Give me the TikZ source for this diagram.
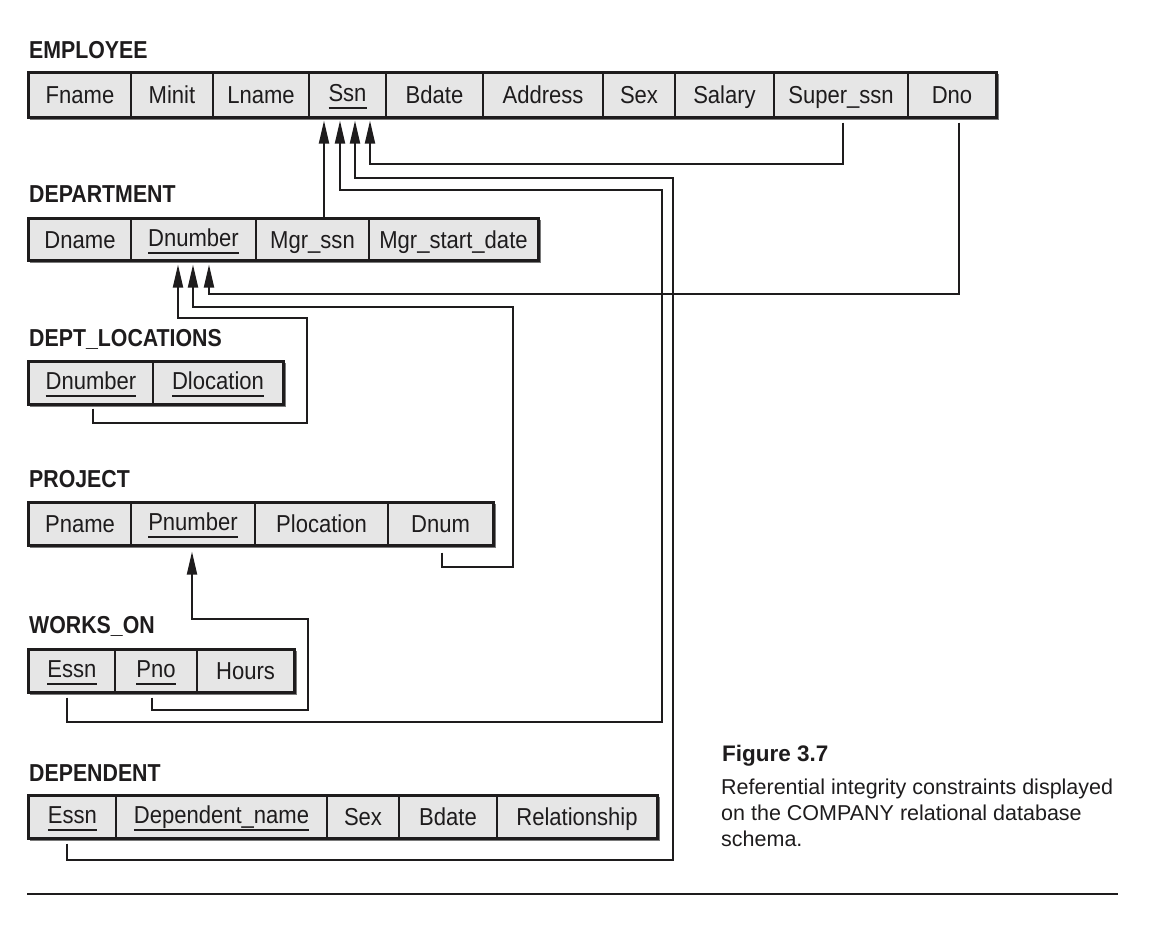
\documentclass[tikz,border=0pt]{standalone}
\usepackage{fontspec}
\setmainfont{Liberation Sans}
\newfontfamily\cellfont{Liberation Sans}[FakeStretch=0.9]
\newfontfamily\labfont{Liberation Sans}[FakeStretch=0.87]
\usetikzlibrary{arrows.meta,calc}
\definecolor{cellgray}{HTML}{E6E6E6}
\definecolor{ink}{HTML}{1E1C1D}
\definecolor{shadowgray}{HTML}{7A7A7A}
\newcommand\keyattr[1]{\raisebox{2pt}{\setbox0=\hbox{#1}\rlap{\rule[-7.5pt]{\wd0}{1.8pt}}\box0}}
\newcommand\tcell[6]{\node[cell, minimum width={(#3)-(#2)}, minimum height={(#5)-(#4)}] (#1) at ({((#2)+(#3))/2},{((#4)+(#5))/2}) {#6};}
\newcommand\tframe[2]{%
  \draw[shadowgray, line width=2pt] ($(#2.north east)+(1.8,1.8)$) -- ($(#2.south east)+(1.8,1.8)$) -- ($(#1.south west)+(1.8,1.8)$);
  \draw[ink, line width=2.2pt] (#1.north west) rectangle (#2.south east);}
\begin{document}
\begin{tikzpicture}[x=1pt,y=-1pt,
  cell/.style={draw=ink, line width=1.2pt, fill=cellgray, inner sep=0pt, text=ink,
    text height=17.5pt, text depth=0pt, font=\cellfont\fontsize{24.5}{28}\selectfont},
  tlabel/.style={anchor=base west, inner sep=0pt, text=ink, font=\labfont\bfseries\fontsize{24.5}{28}\selectfont},
  captxt/.style={anchor=base west, inner sep=0pt, text=ink, font=\fontsize{21.5}{26}\selectfont},
  fk/.style={draw=ink, line width=2pt, -{Triangle[length=23pt,width=10pt]}}]
\useasboundingbox (0,0) rectangle (1162,940);

% EMPLOYEE
\node[tlabel] (l-emp) at (29,58) {EMPLOYEE};
\tcell{emp-fname}{29}{131}{73}{117}{Fname}
\tcell{emp-minit}{131}{213}{73}{117}{Minit}
\tcell{emp-lname}{213}{309}{73}{117}{Lname}
\tcell{emp-ssn}{309}{386}{73}{117}{\keyattr{Ssn}}
\tcell{emp-bdate}{386}{483}{73}{117}{Bdate}
\tcell{emp-address}{483}{603}{73}{117}{Address}
\tcell{emp-sex}{603}{675}{73}{117}{Sex}
\tcell{emp-salary}{675}{774}{73}{117}{Salary}
\tcell{emp-superssn}{774}{908}{73}{117}{Super\_ssn}
\tcell{emp-dno}{908}{996}{73}{117}{Dno}
\tframe{emp-fname}{emp-dno}

% DEPARTMENT
\node[tlabel] (l-dep) at (29,202) {DEPARTMENT};
\tcell{dep-dname}{29}{131}{219}{260}{Dname}
\tcell{dep-dnumber}{131}{256}{219}{260}{\keyattr{Dnumber}}
\tcell{dep-mgrssn}{256}{369}{219}{260}{Mgr\_ssn}
\tcell{dep-mgrdate}{369}{538}{219}{260}{Mgr\_start\_date}
\tframe{dep-dname}{dep-mgrdate}

% DEPT_LOCATIONS
\node[tlabel] (l-dl) at (29,346) {DEPT\_LOCATIONS};
\tcell{dl-dnumber}{29}{153}{362}{404}{\keyattr{Dnumber}}
\tcell{dl-dlocation}{153}{283}{362}{404}{\keyattr{Dlocation}}
\tframe{dl-dnumber}{dl-dlocation}

% PROJECT
\node[tlabel] (l-pr) at (29,487) {PROJECT};
\tcell{pr-pname}{29}{131}{503}{545}{Pname}
\tcell{pr-pnumber}{131}{255}{503}{545}{\keyattr{Pnumber}}
\tcell{pr-plocation}{255}{388}{503}{545}{Plocation}
\tcell{pr-dnum}{388}{493}{503}{545}{Dnum}
\tframe{pr-pname}{pr-dnum}

% WORKS_ON
\node[tlabel] (l-wo) at (29,633) {WORKS\_ON};
\tcell{wo-essn}{29}{115}{650}{692}{\keyattr{Essn}}
\tcell{wo-pno}{115}{197}{650}{692}{\keyattr{Pno}}
\tcell{wo-hours}{197}{294}{650}{692}{Hours}
\tframe{wo-essn}{wo-hours}

% DEPENDENT
\node[tlabel] (l-dp) at (29,781) {DEPENDENT};
\tcell{dp-essn}{29}{116}{796}{838}{\keyattr{Essn}}
\tcell{dp-dname}{116}{327}{796}{838}{\keyattr{Dependent\_name}}
\tcell{dp-sex}{327}{399}{796}{838}{Sex}
\tcell{dp-bdate}{399}{497}{796}{838}{Bdate}
\tcell{dp-rel}{497}{657}{796}{838}{Relationship}
\tframe{dp-essn}{dp-rel}

% referential integrity connectors
\draw[fk] ($(emp-superssn.south)+(2,5)$) |- ($(emp-ssn.south)+(22.5,46)$) -- ($(emp-ssn.south)+(22.5,3)$);
\draw[fk] ($(dp-essn.south)+(-5.5,5)$) |- (673,860) |- ($(emp-ssn.south)+(7.5,60)$) -- ($(emp-ssn.south)+(7.5,3)$);
\draw[fk] ($(wo-essn.south)+(-5,5)$) |- (662,722) |- ($(emp-ssn.south)+(-7.5,72)$) -- ($(emp-ssn.south)+(-7.5,3)$);
\draw[fk] ($(dep-mgrssn.north)+(11.5,0)$) -- ($(emp-ssn.south)+(-23.5,3)$);
\draw[fk] ($(emp-dno.south)+(7,5)$) |- ($(dep-dnumber.south)+(15.5,33)$) -- ($(dep-dnumber.south)+(15.5,4)$);
\draw[fk] ($(pr-dnum.south)+(1.5,7)$) |- (513,567) |- ($(dep-dnumber.south)+(-0.5,46)$) -- ($(dep-dnumber.south)+(-0.5,4)$);
\draw[fk] ($(dl-dnumber.south)+(2,4)$) |- (307,423) |- ($(dep-dnumber.south)+(-15.5,57)$) -- ($(dep-dnumber.south)+(-15.5,4)$);
\draw[fk] ($(wo-pno.south)+(-4,5)$) |- (308,710) |- ($(pr-pnumber.south)+(-1,73)$) -- ($(pr-pnumber.south)+(-1,6)$);

% caption
\node[anchor=base west, inner sep=0pt, text=ink, font=\bfseries\fontsize{22.5}{27}\selectfont] (fig) at (722,761) {Figure 3.7};
\node[captxt] (cap1) at (721,794) {Referential integrity constraints displayed};
\node[captxt] (cap2) at (721,820) {on the COMPANY relational database};
\node[captxt] (cap3) at (721,846) {schema.};

% bottom rule
\coordinate (rule-l) at (27,894);
\coordinate (rule-r) at (1118,894);
\draw[ink, line width=2pt] (rule-l) -- (rule-r);
\end{tikzpicture}
\end{document}
